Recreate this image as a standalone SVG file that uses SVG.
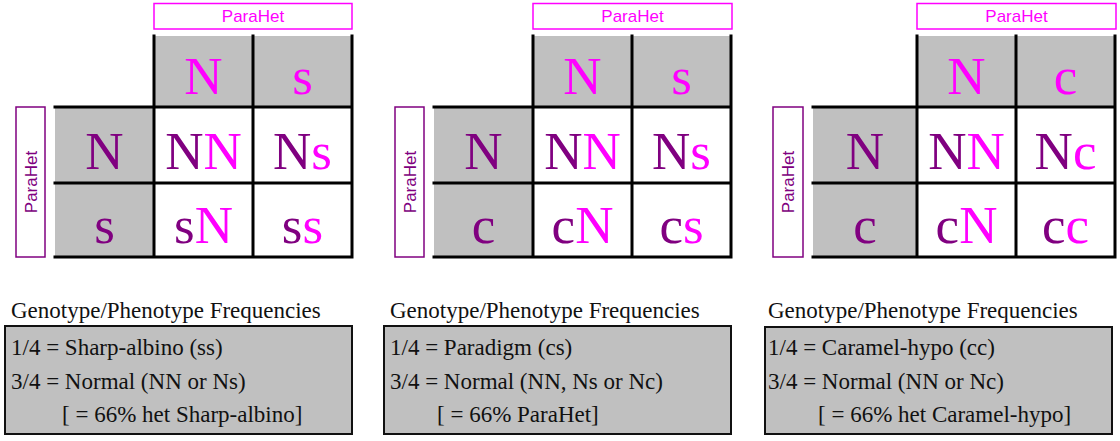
<svg xmlns="http://www.w3.org/2000/svg" width="1120" height="441" viewBox="0 0 1120 441">
<style>
.bg{fill:#ffffff}
.gray{fill:#c0c0c0}
.white{fill:#ffffff}
.grid{stroke:#000;stroke-width:3;fill:none;stroke-linecap:square}
.big{font-family:"Liberation Serif","Times New Roman",serif;font-size:53px;text-anchor:middle}
.pu{fill:#800080}
.mg{fill:#ff00ff}
.lab{font-family:"Liberation Sans",Arial,sans-serif;font-size:17px;text-anchor:middle}
.topbox{fill:#fff;stroke:#ff00ff;stroke-width:1.5}
.leftbox{fill:#fff;stroke:#800080;stroke-width:1.5}
.freq{fill:#c0c0c0;stroke:#111;stroke-width:2}
.ft{font-family:"Liberation Serif","Times New Roman",serif;font-size:23px;fill:#111}
</style>
<rect class="bg" x="0" y="0" width="1120" height="441"/>

<!-- Panel 1 -->
<g id="panel1">
  <g id="p1-top-label"><rect class="topbox" x="154" y="3.5" width="198" height="25.5"/><text class="lab mg" x="253" y="22">ParaHet</text></g>
  <g id="p1-left-label"><rect class="leftbox" x="16" y="107" width="29" height="150"/><text class="lab pu" transform="translate(36.5,182) rotate(-90)" x="0" y="0">ParaHet</text></g>
  <g id="p1-h1"><rect class="gray" x="154" y="36" width="99" height="71"/><text class="big mg" x="203.5" y="94">N</text></g>
  <g id="p1-h2"><rect class="gray" x="253" y="36" width="99" height="71"/><text class="big mg" x="302.5" y="94">s</text></g>
  <g id="p1-r1"><rect class="gray" x="55" y="107" width="99" height="76"/><text class="big pu" x="104.5" y="169">N</text></g>
  <g id="p1-r2"><rect class="gray" x="55" y="183" width="99" height="74"/><text class="big pu" x="104.5" y="243">s</text></g>
  <g id="p1-c11"><rect class="white" x="154" y="107" width="99" height="76"/><text class="big" x="203.5" y="169"><tspan class="pu">N</tspan><tspan class="mg">N</tspan></text></g>
  <g id="p1-c12"><rect class="white" x="253" y="107" width="99" height="76"/><text class="big" x="302.5" y="169"><tspan class="pu">N</tspan><tspan class="mg">s</tspan></text></g>
  <g id="p1-c21"><rect class="white" x="154" y="183" width="99" height="74"/><text class="big" x="203.5" y="243"><tspan class="pu">s</tspan><tspan class="mg">N</tspan></text></g>
  <g id="p1-c22"><rect class="white" x="253" y="183" width="99" height="74"/><text class="big" x="302.5" y="243"><tspan class="pu">s</tspan><tspan class="mg">s</tspan></text></g>
  <g id="p1-freq">
    <text class="ft" x="11" y="318">Genotype/Phenotype Frequencies</text>
    <rect class="freq" x="5" y="326" width="347" height="108"/>
    <text class="ft" x="11" y="355">1/4 = Sharp-albino (ss)</text>
    <text class="ft" x="11" y="389">3/4 = Normal (NN or Ns)</text>
    <text class="ft" x="62" y="422">[ = 66% het Sharp-albino]</text>
  </g>
</g>

<!-- Panel 2 -->
<g id="panel2">
  <g id="p2-top-label"><rect class="topbox" x="533" y="3.5" width="199" height="25.5"/><text class="lab mg" x="632.5" y="22">ParaHet</text></g>
  <g id="p2-left-label"><rect class="leftbox" x="395" y="107" width="29" height="150"/><text class="lab pu" transform="translate(415.5,182) rotate(-90)" x="0" y="0">ParaHet</text></g>
  <g id="p2-h1"><rect class="gray" x="533" y="36" width="99" height="71"/><text class="big mg" x="582.5" y="94">N</text></g>
  <g id="p2-h2"><rect class="gray" x="632" y="36" width="99" height="71"/><text class="big mg" x="681.5" y="94">s</text></g>
  <g id="p2-r1"><rect class="gray" x="434" y="107" width="99" height="76"/><text class="big pu" x="483.5" y="169">N</text></g>
  <g id="p2-r2"><rect class="gray" x="434" y="183" width="99" height="74"/><text class="big pu" x="483.5" y="243">c</text></g>
  <g id="p2-c11"><rect class="white" x="533" y="107" width="99" height="76"/><text class="big" x="582.5" y="169"><tspan class="pu">N</tspan><tspan class="mg">N</tspan></text></g>
  <g id="p2-c12"><rect class="white" x="632" y="107" width="99" height="76"/><text class="big" x="681.5" y="169"><tspan class="pu">N</tspan><tspan class="mg">s</tspan></text></g>
  <g id="p2-c21"><rect class="white" x="533" y="183" width="99" height="74"/><text class="big" x="582.5" y="243"><tspan class="pu">c</tspan><tspan class="mg">N</tspan></text></g>
  <g id="p2-c22"><rect class="white" x="632" y="183" width="99" height="74"/><text class="big" x="681.5" y="243"><tspan class="pu">c</tspan><tspan class="mg">s</tspan></text></g>
  <g id="p2-freq">
    <text class="ft" x="390" y="318">Genotype/Phenotype Frequencies</text>
    <rect class="freq" x="384" y="326" width="347" height="108"/>
    <text class="ft" x="390" y="355">1/4 = Paradigm (cs)</text>
    <text class="ft" x="390" y="389">3/4 = Normal (NN, Ns or Nc)</text>
    <text class="ft" x="437" y="422">[ = 66% ParaHet]</text>
  </g>
</g>

<!-- Panel 3 -->
<g id="panel3">
  <g id="p3-top-label"><rect class="topbox" x="917" y="3.5" width="199" height="25.5"/><text class="lab mg" x="1016.5" y="22">ParaHet</text></g>
  <g id="p3-left-label"><rect class="leftbox" x="773" y="107" width="30" height="150"/><text class="lab pu" transform="translate(794,182) rotate(-90)" x="0" y="0">ParaHet</text></g>
  <g id="p3-h1"><rect class="gray" x="917" y="36" width="99" height="71"/><text class="big mg" x="966.5" y="94">N</text></g>
  <g id="p3-h2"><rect class="gray" x="1016" y="36" width="99" height="71"/><text class="big mg" x="1065.5" y="94">c</text></g>
  <g id="p3-r1"><rect class="gray" x="813" y="107" width="104" height="76"/><text class="big pu" x="865" y="169">N</text></g>
  <g id="p3-r2"><rect class="gray" x="813" y="183" width="104" height="74"/><text class="big pu" x="865" y="243">c</text></g>
  <g id="p3-c11"><rect class="white" x="917" y="107" width="99" height="76"/><text class="big" x="966.5" y="169"><tspan class="pu">N</tspan><tspan class="mg">N</tspan></text></g>
  <g id="p3-c12"><rect class="white" x="1016" y="107" width="99" height="76"/><text class="big" x="1065.5" y="169"><tspan class="pu">N</tspan><tspan class="mg">c</tspan></text></g>
  <g id="p3-c21"><rect class="white" x="917" y="183" width="99" height="74"/><text class="big" x="966.5" y="243"><tspan class="pu">c</tspan><tspan class="mg">N</tspan></text></g>
  <g id="p3-c22"><rect class="white" x="1016" y="183" width="99" height="74"/><text class="big" x="1065.5" y="243"><tspan class="pu">c</tspan><tspan class="mg">c</tspan></text></g>
  <g id="p3-freq">
    <text class="ft" x="768" y="318">Genotype/Phenotype Frequencies</text>
    <rect class="freq" x="765" y="327" width="347" height="107"/>
    <text class="ft" x="768" y="355">1/4 = Caramel-hypo (cc)</text>
    <text class="ft" x="768" y="389">3/4 = Normal (NN or Nc)</text>
    <text class="ft" x="818" y="422">[ = 66% het Caramel-hypo]</text>
  </g>
</g>

<!-- grid lines -->
<g id="connectors" class="grid">
  <path d="M154 36V257M253 36V257M352 36V257M55 107H352M55 183H352M55 257H352"/>
  <path d="M533 36V257M632 36V257M731 36V257M434 107H731M434 183H731M434 257H731"/>
  <path d="M917 36V257M1016 36V257M1115 36V257M813 107H1115M813 183H1115M813 257H1115"/>
</g>
</svg>
